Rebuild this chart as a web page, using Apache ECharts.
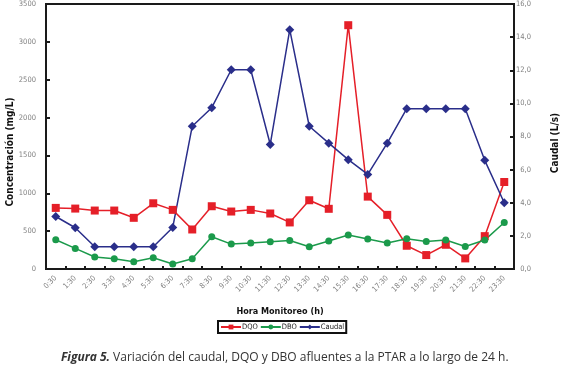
<!DOCTYPE html>
<html>
<head>
<meta charset="utf-8">
<script src="https://cdn.jsdelivr.net/npm/echarts@6/dist/echarts.min.js"></script>
<style>
  html, body { margin: 0; padding: 0; background: #fff; }
  #chart { width: 562px; height: 369px; }
</style>
</head>
<body>
<div id="chart"></div>
<script>
const hours = ['0:30','1:30','2:30','3:30','4:30','5:30','6:30','7:30','8:30','9:30','10:30','11:30',
  '12:30','13:30','14:30','15:30','16:30','17:30','18:30','19:30','20:30','21:30','22:30','23:30'];
const dqo = [807, 798, 772, 772, 676, 868, 781, 522, 829, 759, 781, 733,
  615, 908, 795, 3220, 956, 715, 307, 184, 320, 140, 434, 1149];
const dbo = [386, 272, 158, 136, 96, 149, 66, 136, 425, 329, 342, 360,
  377, 294, 370, 450, 395, 342, 399, 364, 382, 298, 382, 614];
const caudal = [3.17, 2.49, 1.34, 1.34, 1.34, 1.34, 2.51, 8.62, 9.74, 12.03, 12.03, 7.52,
  14.45, 8.62, 7.6, 6.6, 5.71, 7.6, 9.68, 9.68, 9.68, 9.68, 6.56, 4.0];

const narrow = "'Liberation Sans Narrow', 'DejaVu Sans Condensed', 'Liberation Sans', sans-serif";
const chart = echarts.init(document.getElementById('chart'), null, { renderer: 'canvas' });

const tickLabel = { color: '#808080', fontSize: 7.5, fontFamily: narrow };

chart.setOption({
  animation: false,
  backgroundColor: '#fff',
  grid: { left: 46, right: 48, top: 3, bottom: 100, show: true, borderColor: '#1a1a1a', borderWidth: 2 },
  legend: {
    left: 218, top: 321,
    data: ['DQO', 'DBO', 'Caudal'],
    borderColor: '#111', borderWidth: 2, padding: [2, 2, 2, 2],
    itemWidth: 20, itemHeight: 6, itemGap: 2,
    textStyle: { color: '#222', fontSize: 7.5, fontFamily: narrow, padding: [0, 0, 0, -4] }
  },
  xAxis: {
    type: 'category', data: hours, boundaryGap: true,
    name: 'Hora Monitoreo (h)', nameLocation: 'middle', nameGap: 38,
    nameTextStyle: { color: '#111', fontSize: 9, fontWeight: 'bold', fontFamily: narrow },
    axisLine: { lineStyle: { color: '#1a1a1a', width: 2 } },
    axisTick: { show: true, inside: true, length: 3, lineStyle: { color: '#1a1a1a', width: 2 } },
    axisLabel: Object.assign({ interval: 0, rotate: 45, margin: 8 }, tickLabel),
    splitLine: { show: false }
  },
  yAxis: [{
    type: 'value', min: 0, max: 3500, interval: 500, position: 'left',
    axisLine: { show: true, lineStyle: { color: '#1a1a1a', width: 2 } },
    axisTick: { show: true, inside: true, length: 4, lineStyle: { color: '#1a1a1a', width: 2 } },
    axisLabel: Object.assign({ margin: 10, formatter: v => String(v) }, tickLabel),
    splitLine: { show: false }
  }, {
    type: 'value', min: 0, max: 16, interval: 2, position: 'right',
    axisLine: { show: true, lineStyle: { color: '#1a1a1a', width: 2 } },
    axisTick: { show: true, inside: true, length: 4, lineStyle: { color: '#1a1a1a', width: 2 } },
    axisLabel: Object.assign({ margin: 17, align: 'right',
      formatter: v => v.toFixed(1).replace('.', ',') }, tickLabel),
    splitLine: { show: false }
  }],
  graphic: [{
    type: 'text', x: 10, y: 152, rotation: Math.PI / 2,
    style: { text: 'Concentración (mg/L)', fill: '#111', fontSize: 10, fontWeight: 'bold',
      fontFamily: narrow, textAlign: 'center', textVerticalAlign: 'middle' }
  }, {
    type: 'text', x: 555, y: 143, rotation: Math.PI / 2,
    style: { text: 'Caudal (L/s)', fill: '#111', fontSize: 10, fontWeight: 'bold',
      fontFamily: narrow, textAlign: 'center', textVerticalAlign: 'middle' }
  }, {
    type: 'text', x: 61, y: 358,
    style: {
      text: '{b|Figura 5.} Variación del caudal, DQO y DBO afluentes a la PTAR a lo largo de 24 h.',
      fill: '#333', fontSize: 12, fontFamily: "'Open Sans', 'Noto Sans', sans-serif",
      textVerticalAlign: 'middle',
      rich: { b: { fontWeight: 'bold', fontStyle: 'italic', fill: '#333', fontSize: 12,
        fontFamily: "'Open Sans', 'Noto Sans', sans-serif" } }
    }
  }],
  series: [{
    name: 'DQO', type: 'line', data: dqo, yAxisIndex: 0,
    symbol: 'rect', symbolSize: 8,
    lineStyle: { color: '#e51f28', width: 1.5 },
    itemStyle: { color: '#e51f28' }
  }, {
    name: 'DBO', type: 'line', data: dbo, yAxisIndex: 0,
    symbol: 'circle', symbolSize: 7,
    lineStyle: { color: '#1b9a4b', width: 1.5 },
    itemStyle: { color: '#1b9a4b' }
  }, {
    name: 'Caudal', type: 'line', data: caudal, yAxisIndex: 1,
    symbol: 'diamond', symbolSize: 9,
    lineStyle: { color: '#2a2e8a', width: 1.5 },
    itemStyle: { color: '#2a2e8a' }
  }]
});
</script>
</body>
</html>
